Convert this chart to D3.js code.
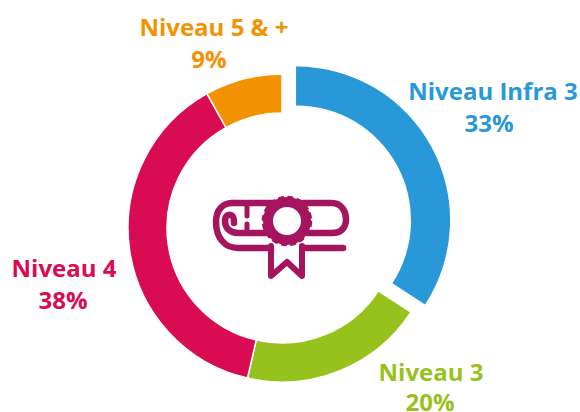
<!DOCTYPE html>
<html>
<head>
<meta charset="utf-8">
<script src="https://cdn.jsdelivr.net/npm/d3@7"></script>
<style>
  html, body { margin: 0; padding: 0; background: #fff; }
  svg { display: block; }
  text { font-family: "Open Sans", Lato, sans-serif; font-weight: 700; font-size: 24px; text-anchor: middle; }
</style>
</head>
<body>
<svg width="580" height="412"></svg>
<script>
var categories = ["Niveau Infra 3", "Niveau 3", "Niveau 4", "Niveau 5 & +"];
var labels = ["33%", "20%", "38%", "9%"];
// slice sizes as drawn, they differ a bit from the printed percentages
var shares = [34.2, 19.4, 38.3, 8.1];
var colors = ["#2998d9", "#97c21e", "#d90b52", "#f39200"];

var svg = d3.select("svg"),
    cx = 282,
    cy = 228,
    outer = 154,
    inner = 115,
    pull = 16;

var ring = svg.append("g").attr("transform", "translate(" + cx + "," + cy + ")");

var pie = d3.pie().sort(null);
var arc = d3.arc().innerRadius(inner).outerRadius(outer);
var slices = pie(shares);

ring.selectAll("path")
    .data(slices)
    .enter().append("path")
    .attr("d", arc)
    .attr("fill", function(d, i) { return colors[i]; })
    .attr("stroke", "#fff")
    .attr("stroke-width", function(d, i) { return i === 0 ? 0 : 1.5; })
    .attr("transform", function(d, i) {
      if (i !== 0) return null;
      var mid = (d.startAngle + d.endAngle) / 2;
      return "translate(" + (pull * Math.sin(mid)) + "," + (-pull * Math.cos(mid)) + ")";
    });

// label centres, name line then value line, in page pixels
var labelBox = [
  {x: 493, y: 100, x2: 489, y2: 132},
  {x: 431, y: 381, x2: 430, y2: 411},
  {x: 64, y: 277, x2: 63, y2: 309},
  {x: 214, y: 36, x2: 209, y2: 68}
];

var txt = svg.selectAll("g.lab")
    .data(categories)
    .enter().append("g")
    .attr("class", "lab")
    .attr("fill", function(d, i) { return colors[i]; });

txt.append("text")
    .attr("x", function(d, i) { return labelBox[i].x; })
    .attr("y", function(d, i) { return labelBox[i].y; })
    .text(function(d) { return d; });

txt.append("text")
    .attr("x", function(d, i) { return labelBox[i].x2; })
    .attr("y", function(d, i) { return labelBox[i].y2; })
    .text(function(d, i) { return labels[i]; });

// diploma icon in the middle
var iconColor = "#a5155f";
var icon = svg.append("g")
    .attr("fill", "none")
    .attr("stroke", iconColor)
    .attr("stroke-width", 6.5)
    .attr("stroke-linecap", "round")
    .attr("stroke-linejoin", "round");

// top edge and right end of the roll
icon.append("path")
    .attr("d", "M232 203H332C341 203 346 211 346 219C346 228 341 233 332 233H308");
// left roll with its curl
icon.append("path")
    .attr("d", "M232 203C222 203 216 211 216 222C216 238 225 248 238 248H268");
icon.append("path")
    .attr("d", "M266 233H238C230 233 225 228 225 221C225 216 228 214 231 215C234 216 234 220 234 223");
// tail under the roll
icon.append("path")
    .attr("d", "M305 248H343");
// fold lines
icon.append("path")
    .attr("d", "M247 206V216M247 224V232")
    .attr("stroke-width", 5);

// ribbon
icon.append("path")
    .attr("d", "M271 246V276L287 262L302 276V246")
    .attr("stroke-width", 6);

// medal with a scalloped edge
icon.append("circle")
    .attr("cx", 287).attr("cy", 221).attr("r", 19)
    .attr("stroke-width", 10)
    .attr("fill", "#fff");
icon.append("circle")
    .attr("cx", 287).attr("cy", 221).attr("r", 24)
    .attr("stroke-width", 2.5)
    .attr("stroke-dasharray", "6 3.4")
    .attr("stroke-linecap", "butt");
</script>
</body>
</html>
